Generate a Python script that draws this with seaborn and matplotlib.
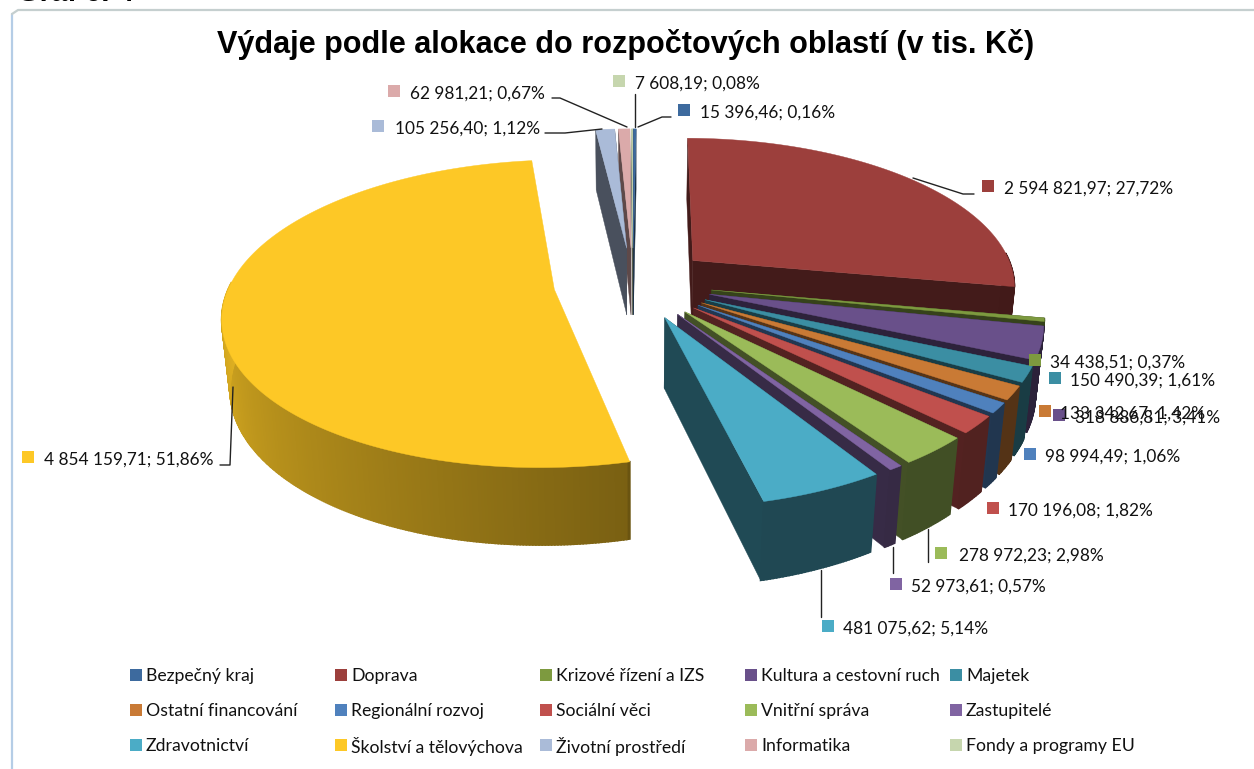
import numpy as np
import seaborn as sns
import matplotlib.pyplot as plt

# data
oblasti = ["Bezpečný kraj", "Doprava", "Krizové řízení a IZS", "Kultura a cestovní ruch", "Majetek",
           "Ostatní financování", "Regionální rozvoj", "Sociální věci", "Vnitřní správa", "Zastupitelé",
           "Zdravotnictví", "Školství a tělovýchova", "Životní prostředí", "Informatika", "Fondy a programy EU"]
vydaje = [15396.46, 2594821.97, 34438.51, 318886.81, 150490.39,
          133342.67, 98994.49, 170196.08, 278972.23, 52973.61,
          481075.62, 4854159.71, 105256.40, 62981.21, 7608.19]
podily = [0.16, 27.72, 0.37, 3.41, 1.61, 1.42, 1.06, 1.82, 2.98, 0.57, 5.14, 51.86, 1.12, 0.67, 0.08]
barvy = ["#3d6a9e", "#9c3f3c", "#7d9a3f", "#69508a", "#3b8ea3",
         "#c97a35", "#4f81bd", "#c0504d", "#9bbb59", "#8064a2",
         "#4bacc6", "#fdc826", "#aabbd8", "#dbaaaa", "#c6d6ae"]

# projection of the "3D" pie to pixels
CX, CY = 633, 283
AX, BY, HL = 324, 148, 70
PERSP = 0.157
EXPLODE = 0.245

sns.set_theme(style="white")
plt.rcParams['font.family'] = ['Lato', 'DejaVu Sans']
paleta = sns.color_palette(barvy)


def projekce(x, y, z):
    s = 1 / (1 + PERSP * y + 0.02 * z)
    return CX + AX * x * s, CY - BY * y * s + HL * z * s


def ztmav(c, f):
    return tuple(min(1, k * f) for k in c)


def vysec(ax, t1, t2, c, bocnice=True):
    # t1, t2 clockwise from the top, in radians; z = 0 top face, z = 1 bottom
    mid = (t1 + t2) / 2
    ox, oy = EXPLODE * np.sin(mid), EXPLODE * np.cos(mid)
    t = np.linspace(t1, t2, max(int((t2 - t1) * 120), 3))
    x = ox + np.sin(t)
    y = oy + np.cos(t)
    # radial faces
    if bocnice:
        for tt in (t1, t2):
            xs = np.array([ox, ox + np.sin(tt), ox + np.sin(tt), ox])
            ys = np.array([oy, oy + np.cos(tt), oy + np.cos(tt), oy])
            zs = np.array([0, 0, 1, 1])
            px, py = projekce(xs, ys, zs)
            ax.fill(px, py, color=ztmav(c, 0.43), lw=0.3)
    # outer rim, only the part facing the viewer, shaded by direction
    for i in range(len(t) - 1):
        tm = (t[i] + t[i + 1]) / 2
        if np.cos(tm) > 0.05:
            continue
        stupne = np.degrees(tm)
        f = 0.42 if stupne < 167 else 0.48 + 0.40 * min(1, (stupne - 167) / 103)
        xs = np.array([x[i], x[i + 1], x[i + 1], x[i]])
        ys = np.array([y[i], y[i + 1], y[i + 1], y[i]])
        zs = np.array([0, 0, 1, 1])
        px, py = projekce(xs, ys, zs)
        ax.fill(px, py, color=ztmav(c, f), lw=1.2)
    px, py = projekce(np.r_[ox, x], np.r_[oy, y], np.zeros(len(x) + 1))
    ax.fill(px, py, color=c, lw=0.3)


def popis(v, p):
    cislo = f"{v:,.2f}".replace(",", " ").replace(".", ",")
    return f"{cislo}; " + f"{p:.2f}".replace(".", ",") + "%"


fig = plt.figure(figsize=(12.54, 7.69), dpi=100, facecolor="white")
ax = fig.add_axes([0, 0, 1, 1])
ax.set_xlim(0, 1254)
ax.set_ylim(769, 0)
ax.axis("off")

# chart frame
ax.plot([12, 12], [769, 14], color="#b5cde6", lw=1.6)
ax.plot([12, 18, 1254], [14, 10, 10], color="#c5cfcf", lw=1.6)
ax.text(17, 1, "Graf č. 4", fontsize=21, fontweight="bold", family="Liberation Sans", color="black", va="baseline")

ax.text(626, 45, "Výdaje podle alokace do rozpočtových oblastí (v tis. Kč)", ha="center", va="center",
        fontsize=22.1, fontweight="bold", family="Liberation Sans", color="black")

# slices, back to front
hranice = np.r_[0, np.cumsum(vydaje)] / np.sum(vydaje) * 2 * np.pi
for i in [14, 13, 12, 0, 11, 1, 2, 3, 4, 5, 6, 7, 8, 9, 10]:
    vysec(ax, hranice[i], hranice[i + 1], paleta[i], bocnice=i != 11)

# leader lines
vodici = {
    1: ([913, 963, 974], [178, 194, 194]),
    11: ([233, 230, 220], [387, 465, 465]),
    12: ([545, 565, 602], [133, 133, 129]),
    13: ([552, 560, 627], [98, 98, 127]),
    14: ([635, 635], [94, 127]),
    0: ([638, 662, 671], [127, 117, 117]),
    10: ([821, 821], [570, 617]),
    9: ([893, 893], [547, 573]),
    8: ([928, 928], [529, 562]),
}
for i, (lx, ly) in vodici.items():
    ax.plot(lx, ly, color="#222222", lw=1)

# data labels: index -> key x, text x, y
umisteni = {
    0: (684, 700, 113), 1: (988, 1004, 189), 2: (1035, 1050, 363), 4: (1055, 1070, 381),
    5: (1045, 1060, 414), 3: (1059, 1075, 418), 6: (1030, 1045, 457), 7: (993, 1008, 511),
    8: (941, 959, 556), 9: (896, 911, 587), 10: (828, 843, 629), 11: (28, 44, 460),
    12: (378, 395, 129), 13: (394, 410, 94), 14: (619, 635, 84),
}
for i, (kx, tx, y) in umisteni.items():
    ax.scatter([kx], [y - 3], marker="s", s=75, color=paleta[i], linewidths=0)
    ax.text(tx, y, popis(vydaje[i], podily[i]), fontsize=12.4, color="#111111", va="center")

# legend, five equal columns
for i, nazev in enumerate(oblasti):
    lx = 136 + 205 * (i % 5)
    ly = 675 + 35 * (i // 5)
    ax.scatter([lx], [ly], marker="s", s=75, color=paleta[i], linewidths=0)
    ax.text(lx + 10, ly + 1, nazev, fontsize=12.7, color="#111111", va="center")

fig.savefig("out.png", dpi=100)
